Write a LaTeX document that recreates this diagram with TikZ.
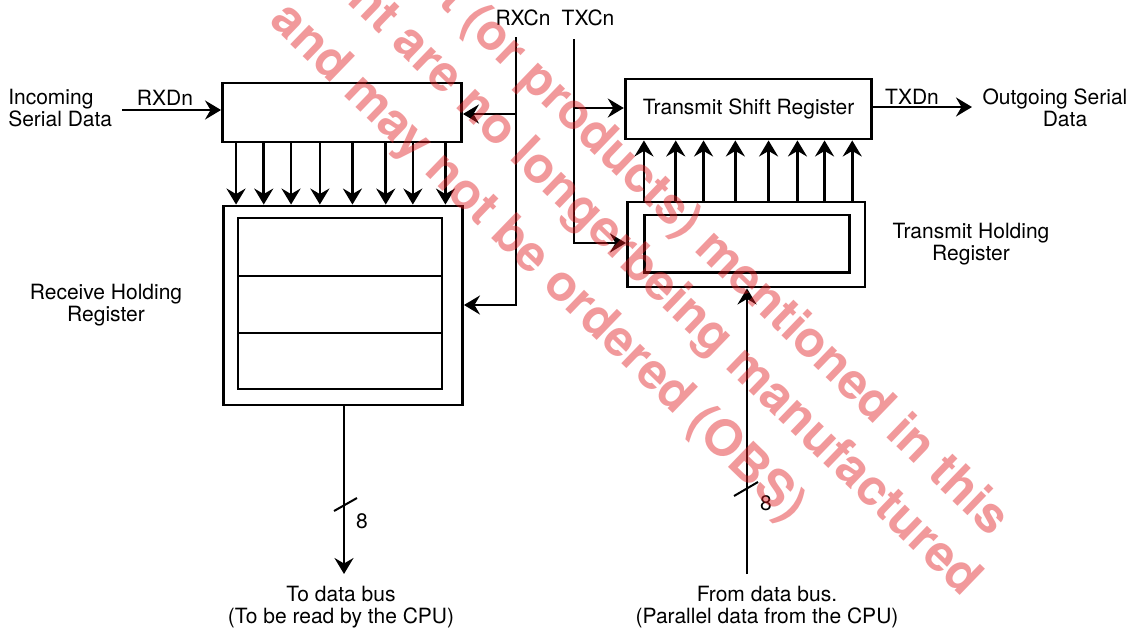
\documentclass[tikz,border=0pt]{standalone}
\usepackage{fontspec}
\setmainfont{TeX Gyre Heros}
\usetikzlibrary{arrows.meta}
\begin{document}
\begin{tikzpicture}[x=1pt,y=-1pt,line width=2.6pt,
  arr/.style={-{Stealth[length=16pt,width=19pt,inset=5.5pt]}},
  box/.style={draw,line width=2.9pt,inner sep=0pt,anchor=center},
  lbl/.style={inner sep=0pt,font=\fontsize{21}{22}\selectfont},
  wm/.style={inner sep=0pt,rotate=-44,text={rgb,255:red,225;green,30;blue,35},text opacity=0.45,font=\fontsize{50}{60}\selectfont\bfseries}]
\fill[white] (0,0) rectangle (1132,633);
\useasboundingbox (0,0) rectangle (1132,633);
% receive side
\node[box,minimum width=239pt,minimum height=59pt] (rsr) at (342,112.5) {};
\node[box,minimum width=239pt,minimum height=199pt] (rhr) at (343,305.5) {};
\node[box,minimum width=204pt,minimum height=58pt] (rc1) at (340,247) {};
\node[box,minimum width=204pt,minimum height=57pt] (rc2) at (340,304.5) {};
\node[box,minimum width=204pt,minimum height=56pt] (rc3) at (340,361) {};
% transmit side
\node[box,minimum width=246.5pt,minimum height=60pt,font=\fontsize{21}{22}\selectfont] (tsr) at (748.5,109) {Transmit Shift Register};
\node[box,minimum width=237.6pt,minimum height=85pt] (thr) at (746.2,244.5) {};
\node[box,minimum width=204.7pt,minimum height=57.7pt] (thri) at (747,243.8) {};
% coordinates
\coordinate (inA) at (122,110);
\coordinate (rxtop) at (516,37);
\coordinate (rxmid) at (516,114);
\coordinate (rxbot) at (516,305);
\coordinate (txtop) at (574,39);
\coordinate (txmid) at (574,108);
\coordinate (txbot) at (574,243);
\coordinate (txd) at (972,107);
\coordinate (busout) at (344,574);
\coordinate (busin) at (747,574);
% connectors
\draw[arr] (inA) -- (inA -| rsr.west);
\foreach \dx in {15,42.7,70,98.8,131.4,164.7,191.8,224.4}
  \draw[arr] ([xshift=\dx pt]rsr.south west) -- ([xshift=\dx pt]rsr.south west |- rhr.north);
\draw[arr] (rxtop) -- (rxbot) -- (rxbot -| rhr.east);
\draw[arr] (rxmid) -- (rxmid -| rsr.east);
\draw[arr] (txtop) -- (txbot) -- (txbot -| thr.west);
\draw[arr] (txmid) -- (txmid -| tsr.west);
\draw[arr] (txd -| tsr.east) -- (txd);
\foreach \dx in {18,49.8,77.6,109.4,142.6,171.5,198.6,226.3}
  \draw[arr] ([xshift=\dx pt]thr.north west) -- ([xshift=\dx pt]thr.north west |- tsr.south);
\draw[arr] (rhr.south -| busout) -- (busout);
\draw[arr] (busin) -- (busin |- thr.south);
\draw[line width=2pt] ([shift={(-10,-63)}]busout) -- ++(23,-13);
\draw[line width=2pt] ([shift={(-13,-78)}]busin) -- ++(24,-14);
% labels
\node[lbl,align=left,anchor=west] (tin) at (7,108) {Incoming\\Serial Data};
\node[lbl] (trxd) at (165,98) {RXDn};
\node[lbl] (trxc) at (523,18) {RXCn};
\node[lbl] (ttxc) at (588,18) {TXCn};
\node[lbl] (ttxd) at (912,97) {TXDn};
\node[lbl,align=center] (tout) at (1055,108) {Outgoing Serial\\\hspace*{20pt}Data};
\node[lbl,align=center] (trhr) at (106,305) {Receive Holding\\Register};
\node[lbl,align=center] (tthr) at (971,244.5) {Transmit Holding\\Register};
\node[lbl] (t8a) at (362,521) {8};
\node[lbl] (t8b) at (766,503) {8};
\node[lbl,align=center] (tbo) at (341,607) {To data bus\\(To be read by the CPU)};
\node[lbl,align=center] (tbi) at (767,607) {From data bus.\\(Parallel data from the CPU)};
% watermark
\begin{scope}
\clip (0,0) rectangle (1132,633);
\node[wm,anchor=east] (wm1) at (1001,529) {product (or products) mentioned in this};
\node[wm,anchor=east] (wm2) at (973,589) {document are no longerbeing manufactured};
\node[wm,anchor=center] (wm3) at (537,264) {and may not be ordered (OBS)};
\end{scope}
\end{tikzpicture}
\end{document}
